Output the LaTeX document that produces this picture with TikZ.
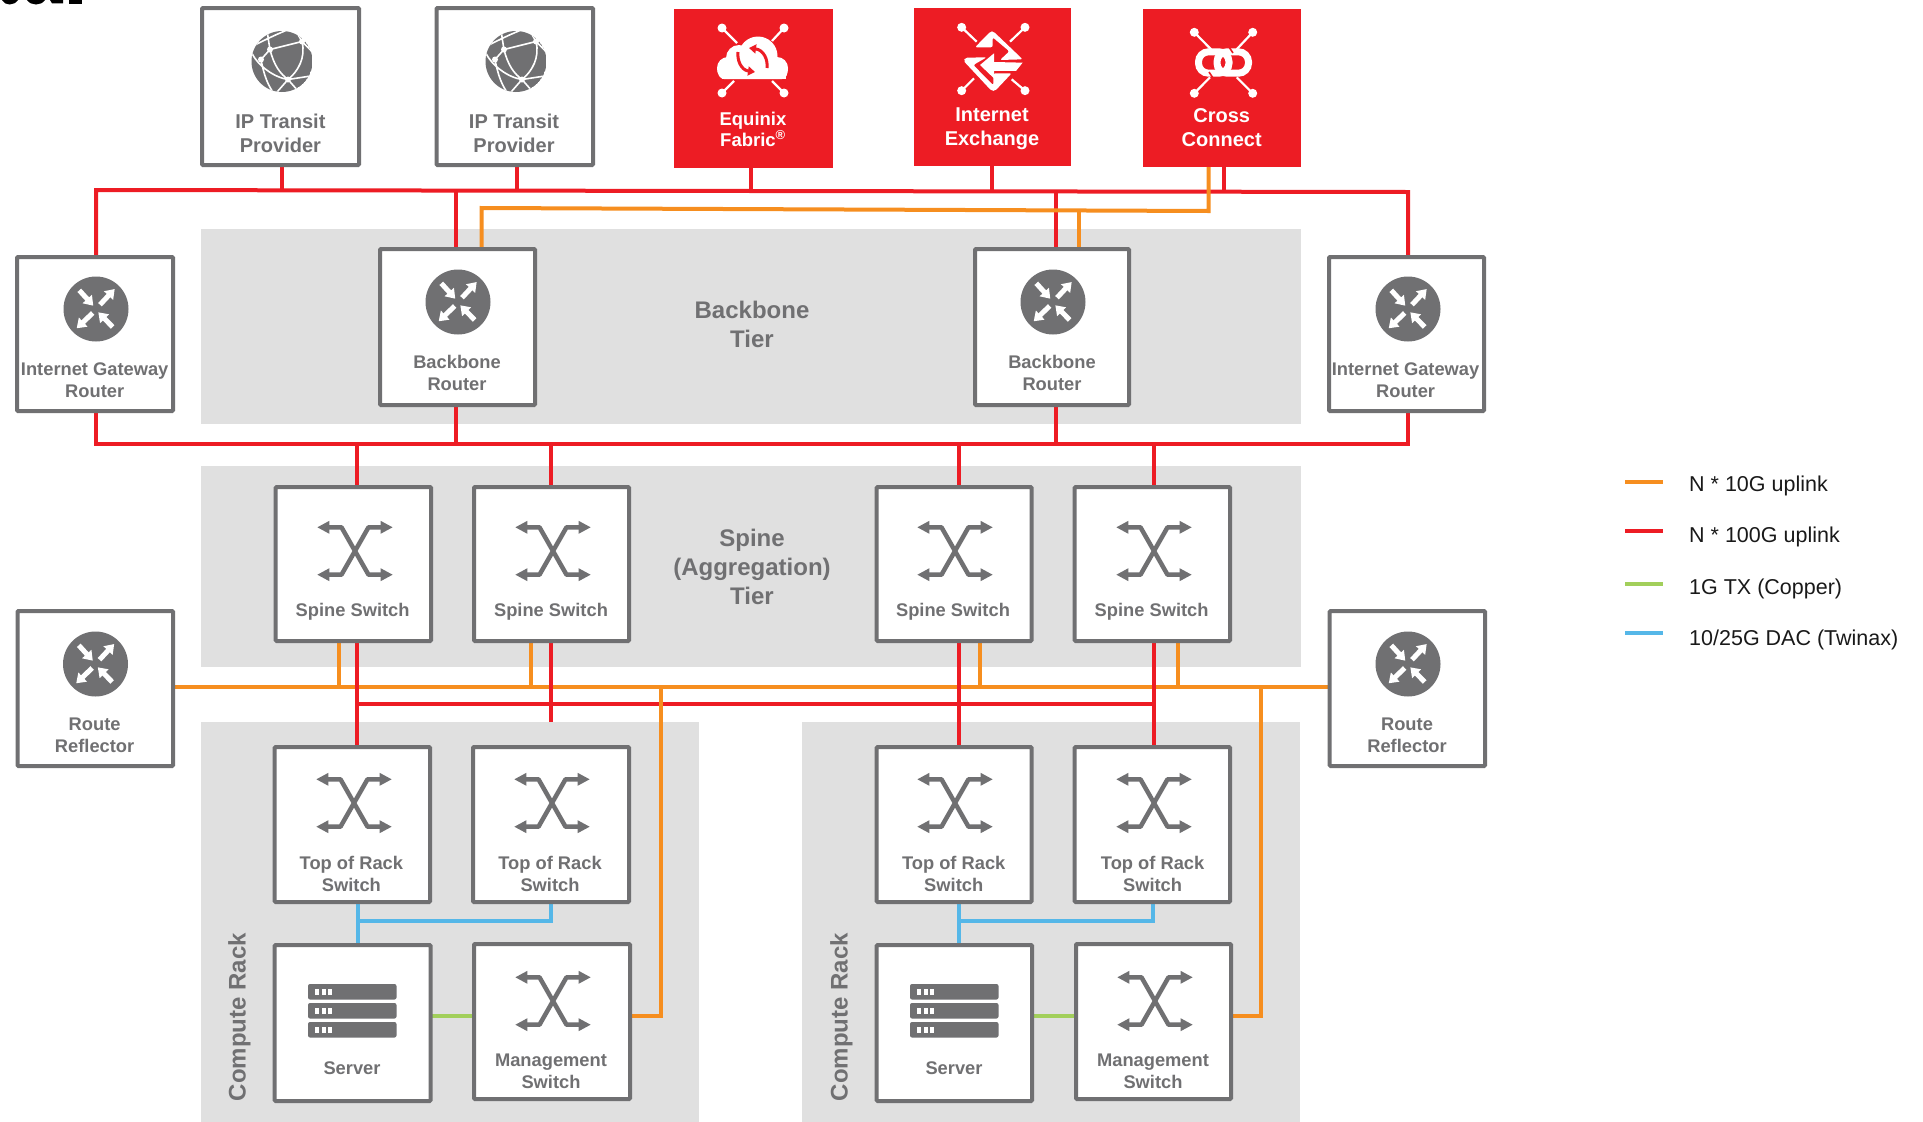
\documentclass[tikz,border=0pt]{standalone}
\usepackage{fontspec}
\setmainfont{Liberation Sans}
\usetikzlibrary{arrows.meta}
\definecolor{eqred}{HTML}{ED1C24}
\definecolor{eqorange}{HTML}{F68E1F}
\definecolor{eqblue}{HTML}{55B7E8}
\definecolor{eqgreen}{HTML}{A2CF5B}
\definecolor{eqgrey}{HTML}{707072}
\definecolor{eqband}{HTML}{E0E0E0}
\pgfdeclarelayer{bands}\pgfdeclarelayer{wires}\pgfsetlayers{bands,wires,main}
\tikzset{
 devbox/.style={draw=eqgrey,fill=white,line width=4pt,rounded corners=1pt,inner sep=0pt,outer sep=0pt,rectangle},
 redbox/.style={fill=eqred,inner sep=0pt,outer sep=0pt,rectangle},
 bandbox/.style={fill=eqband,inner sep=0pt,outer sep=0pt,rectangle},
 lab/.style={text=eqgrey,font=\bfseries\fontsize{18.3}{22}\selectfont,align=center,inner sep=0pt},
 labbig/.style={text=eqgrey,font=\bfseries\fontsize{20}{23.5}\selectfont,align=center,inner sep=0pt},
 labred/.style={text=white,font=\bfseries\fontsize{20}{24}\selectfont,align=center,inner sep=0pt},
 tier/.style={text=eqgrey,font=\bfseries\fontsize{24}{29}\selectfont,align=center,inner sep=0pt},
 rack/.style={text=eqgrey,font=\bfseries\fontsize{24}{28}\selectfont,rotate=90,inner sep=0pt},
 legendtext/.style={text=black!90,font=\fontsize{21.5}{25}\selectfont,anchor=west,inner sep=0pt},
 redw/.style={draw=eqred,line width=4pt,line join=miter},
 orw/.style={draw=eqorange,line width=4pt,line join=miter},
 bluew/.style={draw=eqblue,line width=4pt,line join=miter},
 greenw/.style={draw=eqgreen,line width=4pt},
 routericon/.pic={
  \fill[eqgrey] (0,0) circle (32.5pt);
  \foreach \a/\b/\c/\d in {-16.7/-18.7/-2.7/-3.3, 4/-4.3/18.7/-20, -3.3/4/-19.3/19.3, 16.7/18/2.3/3.3}
   \draw[white,line width=5pt,-{Triangle[width=12pt,length=9pt]}] (\a,\b) -- (\c,\d);
 },
 switchicon/.pic={
  \draw[eqgrey,line width=4.5pt,line join=round] (-28,-23.7) -- (-13.5,-23.7) -- (13.5,23.7) -- (28,23.7);
  \draw[eqgrey,line width=4.5pt,line join=round] (-28,23.7) -- (-13.5,23.7) -- (13.5,-23.7) -- (28,-23.7);
  \foreach \s in {1,-1} \foreach \t in {1,-1}
   \fill[eqgrey] ({\s*37.6},{\t*23.7}) -- ({\s*25.6},{\t*23.7-6.5}) -- ({\s*25.6},{\t*23.7+6.5}) -- cycle;
 },
 servericon/.pic={
  \foreach \r in {0,19,38}{
   \fill[eqgrey,rounded corners=2pt] (0,\r) rectangle (88.5,\r+15.5);
   \foreach \q in {7,13.5,20} \fill[white] (\q,\r+5) rectangle (\q+4,\r+10.5);
  }
 },
 globeicon/.pic={
  \begin{scope}
  \clip (0,0) circle (30.5pt);
  \fill[eqgrey] (0,0) circle (30.5pt);
  \draw[white,line width=1.6pt]
   (-21,-2) -- (-12,-12) -- (20,-20)
   (-32,-14) .. controls (-20,-20) and (-5,-28) .. (12,-34)
   (-15,-32) .. controls (-14,-24) and (-13,-18) .. (-12,-12)
   (-12,-12) .. controls (-8,4) and (-2,12) .. (6,18)
   (20,-20) .. controls (24,-4) and (16,10) .. (6,18)
   (-30,-8) .. controls (-24,4) and (-8,16) .. (6,18)
   (-21,-2) .. controls (-18,14) and (-14,24) .. (-8,32)
   (6,18) -- (32,14)
   (6,18) -- (-8,34)
   (6,18) -- (20,34)
   (20,-20) -- (34,-6)
   (20,-20) -- (12,-34);
  \end{scope}
  \foreach \p in {(-12,-12),(6,18),(20,-20),(-21,-2)} \fill[white] \p circle (3pt);
 },
 spoke/.style={draw=white,line width=2.2pt},
}
\newcommand{\devbox}[5]{\node[devbox,minimum width={(#4-#2-2)*1pt},minimum height={(#5-#3-2)*1pt}] (#1) at ({(#2+#4)/2},{(#3+#5)/2}) {};}
\newcommand{\redbox}[5]{\node[redbox,minimum width={(#4-#2)*1pt},minimum height={(#5-#3)*1pt}] (#1) at ({(#2+#4)/2},{(#3+#5)/2}) {};}
\newcommand{\bandbox}[5]{\node[bandbox,minimum width={(#4-#2)*1pt},minimum height={(#5-#3)*1pt}] (#1) at ({(#2+#4)/2},{(#3+#5)/2}) {};}
\newcommand{\spokedot}[4]{\draw[spoke] (#1,#2) -- (#3,#4); \fill[white] (#1,#2) circle (4.5pt);}
\begin{document}
\begin{tikzpicture}[x=1pt,y=-1pt]
\path[use as bounding box] (0,0) rectangle (1923,1122);
% cropped fragment at the top edge
\fill[black] (2,0) .. controls (5,6) and (14,6) .. (18,0) -- cycle;
\fill[black] (27,0) .. controls (31,6) and (41,6) .. (45,0) -- cycle;
\fill[black] (50,0) -- (52,3.3) -- (63,3.3) -- (63,0) -- cycle;
\fill[black] (69,0) rectangle (82,3.5);
\begin{pgfonlayer}{bands}
\bandbox{bandbb}{201}{229}{1301}{424}
\bandbox{bandsp}{201}{466}{1301}{667}
\bandbox{rackl}{201}{722}{699}{1122}
\bandbox{rackr}{802}{722}{1300}{1122}
\end{pgfonlayer}
% top row
\devbox{ipa}{201}{7}{360}{166}
\devbox{ipb}{435.5}{7}{594}{166}
\redbox{eqf}{674}{9}{833}{168}
\redbox{ix}{914}{8}{1071}{166}
\redbox{cc}{1143}{9}{1301}{167}
% routers
\devbox{gwl}{16}{256}{174}{412}
\devbox{bba}{379}{248}{536}{406}
\devbox{bbb}{974}{248}{1130}{406}
\devbox{gwr}{1328}{256}{1485}{412}
% spines
\devbox{spa}{274.6}{486}{432}{642}
\devbox{spb}{473}{486}{630}{642}
\devbox{spc}{875.6}{486}{1032.6}{642}
\devbox{spd}{1073.6}{486}{1231}{642}
% route reflectors
\devbox{rrl}{16.5}{610}{174}{767}
\devbox{rrr}{1328.7}{610}{1486}{767}
% racks
\devbox{tora}{273.6}{746}{431}{903}
\devbox{torb}{472}{746}{630}{903}
\devbox{torc}{875.6}{746}{1032.6}{903}
\devbox{tord}{1073.6}{746}{1231}{903}
\devbox{srva}{273.6}{944}{431.5}{1102}
\devbox{mgma}{473}{943}{631}{1100}
\devbox{srvb}{875.6}{944}{1033}{1102}
\devbox{mgmb}{1075}{943}{1232}{1100}
% icons
\pic at (282,61.5) {globeicon};
\pic at (516,61.5) {globeicon};
\pic at (96,309) {routericon};
\pic at (458,302) {routericon};
\pic at (1053,302) {routericon};
\pic at (1408,309) {routericon};
\pic at (95.5,664) {routericon};
\pic at (1408,664) {routericon};
\foreach \p in {(355,551),(553,551),(955,551),(1154,551),(354,803),(552,803),(955,803),(1154,803),(553,1001),(1155,1001)} \pic at \p {switchicon};
\pic at (308,984) {servericon};
\pic at (910,984) {servericon};
% Equinix Fabric icon
\spokedot{722}{28}{737}{43}
\spokedot{784}{28}{772}{41}
\spokedot{722}{93}{734}{81}
\spokedot{784}{93}{772}{81}
\fill[white] (728,68) circle (11pt) (739,58) circle (13pt) (758,56) circle (19.5pt) (777,68) circle (11pt);
\fill[white] (722,68) rectangle (786,79);
\fill[white] (717,68) .. controls (717,74) and (720,79) .. (724,79) -- (782,79) .. controls (786,79) and (788,74) .. (788,68) -- cycle;
\draw[eqred,line width=3pt,-{Triangle[width=9pt,length=7pt]}] (738,52) .. controls (737,60) and (741,70) .. (755,72);
\draw[eqred,line width=3pt,-{Triangle[width=9pt,length=7pt]}] (767,68) .. controls (768,60) and (764,50) .. (749,48);
% Internet Exchange icon
\begin{scope}[shift={(930,10)},x=0.3333pt,y=-0.3333pt]
\spokedot{95}{52}{140}{95}
\spokedot{285}{52}{240}{95}
\spokedot{95}{242}{132}{205}
\spokedot{285}{242}{245}{208}
\fill[white,rounded corners=2pt] (135,112) -- (182,64) -- (190,64) -- (278,148) -- (210,150) -- (238,124) -- (188,82) -- (188,112) -- cycle;
\fill[white,rounded corners=2pt] (100,152) -- (106,143) -- (170,142) -- (130,165) -- (190,226) -- (190,190) -- (245,190) -- (195,243) -- (185,243) -- cycle;
\fill[white] (192,130) -- (150,165) -- (192,205) -- (192,183) -- (258,183) -- (278,158) -- (192,156) -- cycle;
\end{scope}
% Cross Connect icon
\spokedot{1194.3}{32.3}{1211}{49.3}
\spokedot{1252.7}{32.3}{1236.7}{49.3}
\spokedot{1194.3}{93.3}{1210}{77.3}
\spokedot{1252.7}{93.3}{1236.7}{77.3}
\draw[white,line width=7pt,rounded corners=10pt] (1198.5,51.8) rectangle (1229,73.2);
\draw[white,line width=7pt,rounded corners=10pt] (1217,51.8) rectangle (1248.5,73.2);
\draw[eqred,line width=1.6pt] (1229,47) -- (1233,53) (1209,72) -- (1213,78);
% labels
\node[labbig] (ipat) at (280.4,133.5) {IP Transit\\Provider};
\node[labbig] (ipbt) at (514,133.5) {IP Transit\\Provider};
\node[labred,font=\bfseries\fontsize{18.5}{21}\selectfont] (eqft) at (753,129) {Equinix\\Fabric\textsuperscript{®}};
\node[labred] (ixt) at (992,128.5) {Internet\\Exchange};
\node[labred] (cct) at (1221.7,128) {Cross\\Connect};
\node[lab] (gwlt) at (94.7,380) {Internet Gateway\\Router};
\node[lab] (gwrt) at (1405.6,380) {Internet Gateway\\Router};
\node[lab] (bbat) at (457,373) {Backbone\\Router};
\node[lab] (bbbt) at (1052,373) {Backbone\\Router};
\node[tier] (bbt) at (752,324.5) {Backbone\\Tier};
\node[tier] (spt) at (752,567) {Spine\\(Aggregation)\\Tier};
\node[lab] (spat) at (352.6,612) {Spine Switch};
\node[lab] (spbt) at (551,612) {Spine Switch};
\node[lab] (spct) at (953,612) {Spine Switch};
\node[lab] (spdt) at (1151.6,612) {Spine Switch};
\node[lab] (rrlt) at (94.6,735) {Route\\Reflector};
\node[lab] (rrrt) at (1407,735) {Route\\Reflector};
\node[lab] (torat) at (351.4,874) {Top of Rack\\Switch};
\node[lab] (torbt) at (550,874) {Top of Rack\\Switch};
\node[lab] (torct) at (953.7,874) {Top of Rack\\Switch};
\node[lab] (tordt) at (1152.6,874) {Top of Rack\\Switch};
\node[lab] (srvat) at (352,1068) {Server};
\node[lab] (srvbt) at (954,1068) {Server};
\node[lab] (mgmat) at (551,1071) {Management\\Switch};
\node[lab] (mgmbt) at (1153,1071) {Management\\Switch};
\node[rack] (rlt) at (239.5,1017) {Compute Rack};
\node[rack] (rrt) at (841.5,1017) {Compute Rack};
% legend
\coordinate (la1) at (1625,481.7); \coordinate (la2) at (1663,481.7);
\coordinate (lb1) at (1625,530.7); \coordinate (lb2) at (1663,530.7);
\coordinate (lc1) at (1625,583.7); \coordinate (lc2) at (1663,583.7);
\coordinate (ld1) at (1625,633); \coordinate (ld2) at (1663,633);
\node[legendtext] (lat) at (1689,486) {N * 10G uplink};
\node[legendtext] (lbt) at (1689,537) {N * 100G uplink};
\node[legendtext] (lct) at (1689,589) {1G TX (Copper)};
\node[legendtext] (ldt) at (1689,640) {10/25G DAC (Twinax)};
\draw[orw] (la1) -- (la2);
\draw[redw] (lb1) -- (lb2);
\draw[greenw] (lc1) -- (lc2);
\draw[bluew] (ld1) -- (ld2);
% wires
\begin{pgfonlayer}{wires}
% upper red bus
\coordinate (tl) at (96,190); \coordinate (tr) at (1408,192);
\coordinate (t1) at (282,190.5); \coordinate (t2) at (517,191);
\coordinate (t3) at (750.6,191); \coordinate (t4) at (992,191.5); \coordinate (t5) at (1224,192);
\coordinate (t6) at (456,190.5); \coordinate (t7) at (1056,191.5);
\draw[redw] (gwl.north -| tl) -- (tl) -- (tr) -- (gwr.north -| tr);
\draw[redw] (ipa.south -| t1) -- (t1);
\draw[redw] (ipb.south -| t2) -- (t2);
\draw[redw] (eqf.south -| t3) -- (t3);
\draw[redw] (ix.south -| t4) -- (t4);
\draw[redw] (cc.south -| t5) -- (t5);
\draw[redw] (t6) -- (bba.north -| t6);
\draw[redw] (t7) -- (bbb.north -| t7);
% upper orange
\coordinate (o1) at (481.6,208); \coordinate (o2) at (1208.5,211); \coordinate (o3) at (1079,210.5);
\draw[orw] (cc.south -| o2) -- (o2) -- (o1) -- (bba.north -| o1);
\draw[orw] (o3) -- (bbb.north -| o3);
% lower red bus
\coordinate (ml) at (96,444); \coordinate (mr) at (1408,444);
\coordinate (m1) at (357,444); \coordinate (m2) at (551.4,444); \coordinate (m3) at (959,444); \coordinate (m4) at (1154,444);
\coordinate (m5) at (456,444); \coordinate (m6) at (1056,444);
\draw[redw] (gwl.south -| ml) -- (ml) -- (mr) -- (gwr.south -| mr);
\draw[redw] (bba.south -| m5) -- (m5);
\draw[redw] (bbb.south -| m6) -- (m6);
\draw[redw] (m1) -- (spa.north -| m1);
\draw[redw] (m2) -- (spb.north -| m2);
\draw[redw] (m3) -- (spc.north -| m3);
\draw[redw] (m4) -- (spd.north -| m4);
% rack red bus
\coordinate (r1) at (357,704); \coordinate (r2) at (1154,704);
\draw[redw] (r1) -- (r2);
% rack orange bus
\coordinate (p1) at (339,687); \coordinate (p2) at (531,687); \coordinate (p3) at (980,687); \coordinate (p4) at (1178,687);
\coordinate (p5) at (661,687); \coordinate (p6) at (1261,687);
\coordinate (q5) at (661,1016); \coordinate (q6) at (1261,1016);
\draw[orw] (rrl.east |- p1) -- (rrr.west |- p1);
\draw[orw] (spa.south -| p1) -- (p1);
\draw[orw] (spb.south -| p2) -- (p2);
\draw[orw] (spc.south -| p3) -- (p3);
\draw[orw] (spd.south -| p4) -- (p4);
\draw[orw] (p5) -- (q5) -- (mgma.east |- q5);
\draw[orw] (p6) -- (q6) -- (mgmb.east |- q6);
% spine to rack red
\draw[redw] (spa.south -| r1) -- (tora.north -| r1);
\coordinate (r3) at (551.4,722);
\draw[redw] (spb.south -| r3) -- (r3);
\draw[redw] (spc.south -| m3) -- (torc.north -| m3);
\draw[redw] (spd.south -| m4) -- (tord.north -| m4);
% blue
\coordinate (b1) at (357.5,921); \coordinate (b2) at (550.7,921);
\coordinate (b3) at (959,921); \coordinate (b4) at (1153,921);
\draw[bluew] (tora.south -| b1) -- (srva.north -| b1);
\draw[bluew] (b1) -- (b2) -- (torb.south -| b2);
\draw[bluew] (torc.south -| b3) -- (srvb.north -| b3);
\draw[bluew] (b3) -- (b4) -- (tord.south -| b4);
% green
\coordinate (g1) at (450,1016); \coordinate (g2) at (1050,1016);
\draw[greenw] (srva.east |- g1) -- (mgma.west |- g1);
\draw[greenw] (srvb.east |- g2) -- (mgmb.west |- g2);
\end{pgfonlayer}
\end{tikzpicture}
\end{document}
